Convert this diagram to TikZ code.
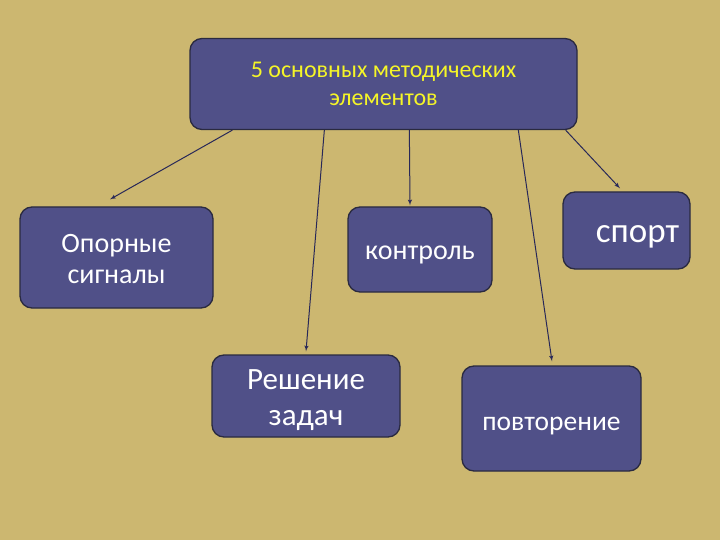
\documentclass[tikz,border=0pt]{standalone}
\usepackage{fontspec}
\setmainfont{Carlito}
\usepackage{tikz}
\usetikzlibrary{arrows}

\definecolor{sand}{RGB}{204,183,112}
\definecolor{boxblue}{RGB}{80,80,136}
\definecolor{boxedge}{RGB}{42,42,64}
\definecolor{linkblue}{RGB}{40,40,88}
\definecolor{titleyellow}{RGB}{245,245,40}
% lower the ink of a text line, keeping its box
\newcommand{\sinkby}[2]{\raisebox{-#1}[\height][\depth]{#2}}

\begin{document}
\begin{tikzpicture}
	[x=1pt, y=-1pt, thick, >=latex',
	 main/.style = {draw=boxedge, line width=1.3pt, fill=boxblue, rounded corners=12pt,
	                text=white, align=center, inner sep=0pt},
	 link/.style = {->, draw=linkblue, line width=1pt}]
	\fill[sand] (0,0) rectangle (720,540);
	\useasboundingbox (0,0) rectangle (720,540);
	\node[main, minimum width=387pt, minimum height=91pt, text=titleyellow,
	      font=\fontsize{24}{28}\selectfont] (top) at (383.5,84)
	      {5 основных методических\\элементов};
	\node[main, minimum width=193pt, minimum height=101pt,
	      font=\fontsize{28}{31}\selectfont] (op) at (116.5,257.5)
	      {\sinkby{1.5pt}{Опорные}\\\sinkby{1.5pt}{сигналы}};
	\node[main, minimum width=144pt, minimum height=85pt,
	      font=\fontsize{28}{31}\selectfont] (ctrl) at (420,249.5) {\sinkby{5pt}{контроль}};
	\node[main, minimum width=127pt, minimum height=77pt,
	      font=\fontsize{35}{38}\selectfont] (sport) at (626.5,230.5)
	      {\hspace*{22pt}\sinkby{6pt}{спорт}};
	\node[main, minimum width=188pt, minimum height=82pt,
	      font=\fontsize{31}{36}\selectfont] (task) at (306,396)
	      {\sinkby{4pt}{Решение}\\\sinkby{4pt}{задач}};
	\node[main, minimum width=179pt, minimum height=105pt,
	      font=\fontsize{27.5}{30}\selectfont] (rep) at (551.5,418.5) {\sinkby{8pt}{повторение}};
	\draw[link] ([xshift=43pt]top.south west) -- ([xshift=-6.5pt, yshift=7pt]op.north);
	\draw[link] ([xshift=135pt]top.south west) -- ([yshift=3pt]task.north);
	\draw[link] ([xshift=220pt]top.south west) -- ([xshift=-10pt, yshift=1pt]ctrl.north);
	\draw[link] ([xshift=329pt]top.south west) -- ([xshift=0.5pt, yshift=4pt]rep.north);
	\draw[link] ([xshift=-12pt]top.south east) -- ([xshift=-6.5pt, yshift=3pt]sport.north);
\end{tikzpicture}
\end{document}
